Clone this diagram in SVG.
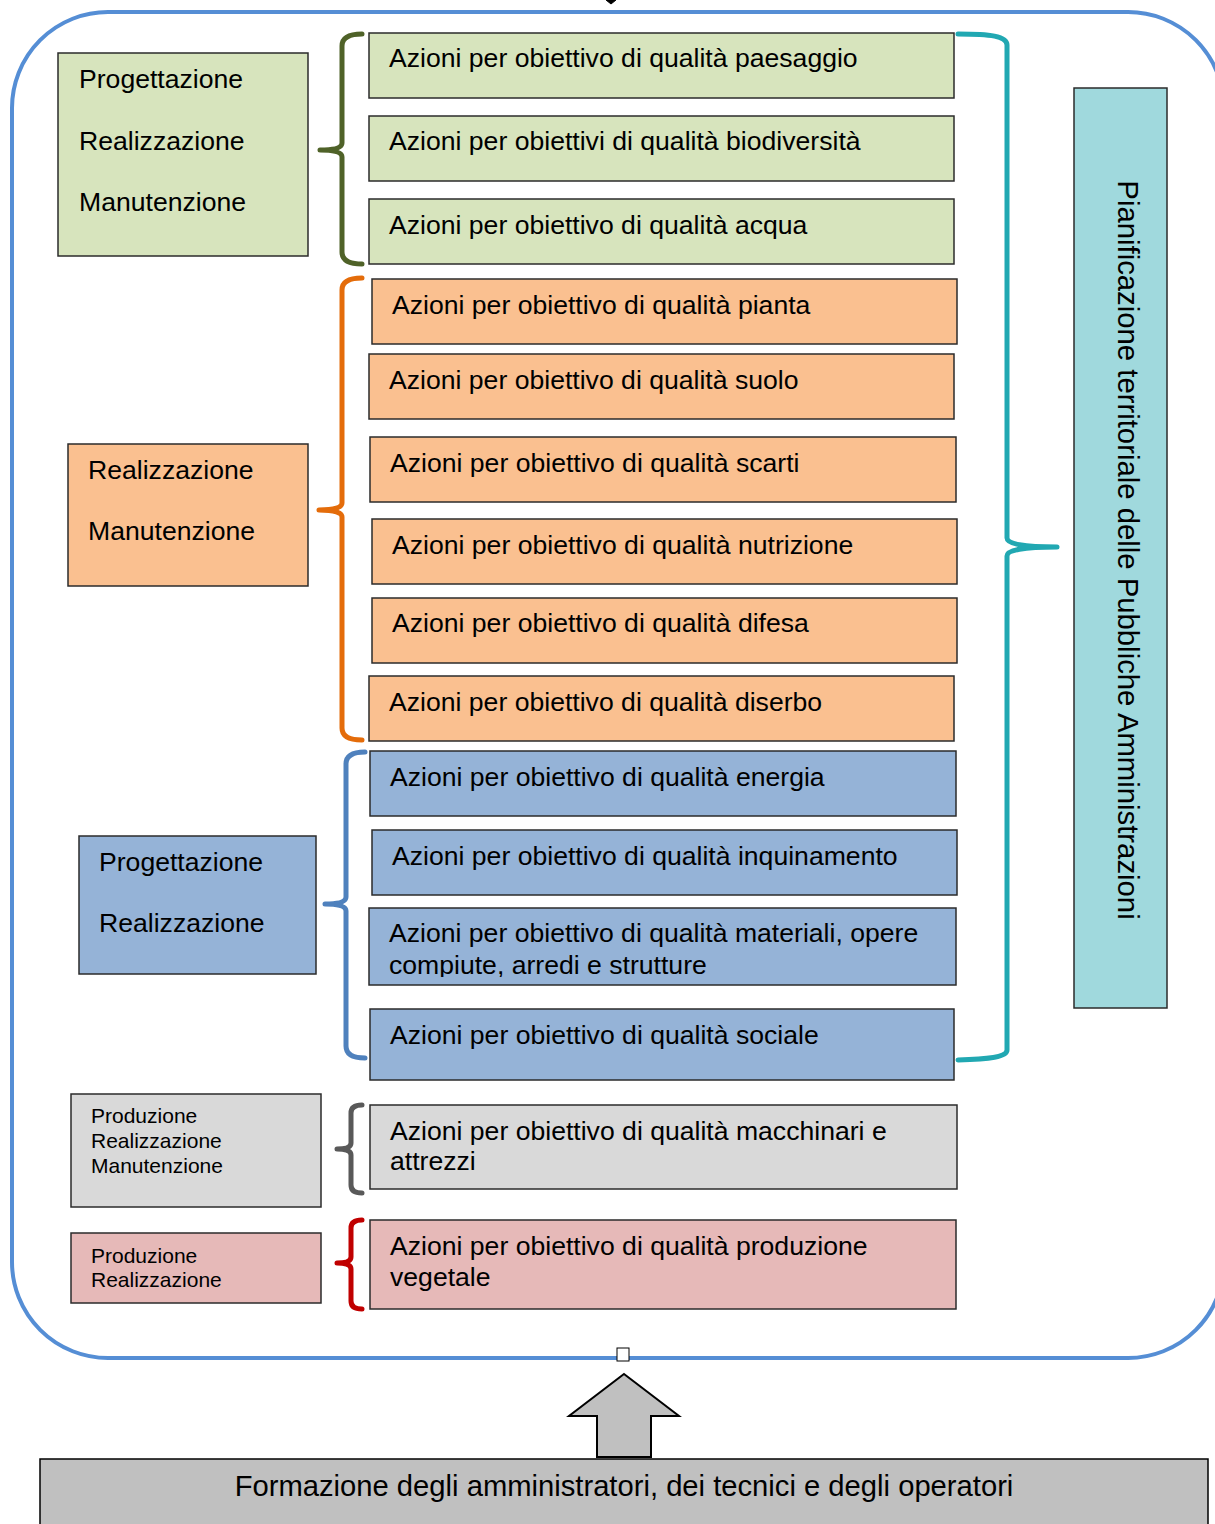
<svg xmlns="http://www.w3.org/2000/svg" width="1215" height="1524" viewBox="0 0 1215 1524">
<style>
text{font-family:"Liberation Sans",Arial,sans-serif;fill:#000}
.t{font-size:26.6px}
.s{font-size:21px}
.box{stroke:#2b2b2b;stroke-width:1.5}
.g{fill:#D7E4BD}.o{fill:#FAC090}.b{fill:#95B3D7}.gr{fill:#D9D9D9}.p{fill:#E6B9B8}.tl{fill:#A0D9DD}.sv{fill:#C0C0C0}
.br{fill:none;stroke-width:5;stroke-linecap:round;stroke-linejoin:round}
</style>
<defs>
<clipPath id="clipMat"><rect x="369" y="908" width="587" height="69"/></clipPath>
</defs>
<rect width="1215" height="1524" fill="#fff"/>
<g id="frame">
<rect x="12" y="12" width="1212" height="1346" rx="96" ry="96" fill="none" stroke="#558ED5" stroke-width="4"/>
<path d="M606,0 L611,4 L616,0" fill="#000" stroke="#000" stroke-width="1"/>
</g>
<g id="connectors">
<path class="br" stroke="#4F6228" d="M362,34 Q342,34 342,46 L342,143 Q342,150 320,150 Q342,150 342,157 L342,252 Q342,264 362,264"/>
<path class="br" stroke="#E46C0A" d="M362,278 Q342,278 342,290 L342,503 Q342,510 319,510 Q342,510 342,517 L342,728 Q342,740 362,740"/>
<path class="br" stroke="#4F81BD" d="M365,752 Q346,752 346,764 L346,897 Q346,904 325,904 Q346,904 346,911 L346,1046 Q346,1058 365,1058"/>
<path class="br" stroke="#595959" d="M362,1105 Q351,1105 351,1113 L351,1143 Q351,1149 337,1149 Q351,1149 351,1155 L351,1185 Q351,1193 362,1193"/>
<path class="br" stroke="#C00000" d="M362,1220 Q351,1220 351,1228 L351,1257 Q351,1263 337,1263 Q351,1263 351,1269 L351,1301 Q351,1309 362,1309"/>
<path class="br" stroke="#21A8B2" d="M958,34 C990,34 1007,36 1007,45 L1007,538 Q1007,547 1057,547 Q1007,547 1007,556 L1007,1050 C1007,1057 990,1059 958,1060"/>
</g>
<g id="left-green"><rect class="box g" x="58" y="53" width="250" height="203"/>
<text class="t" x="79" y="88">Progettazione</text><text class="t" x="79" y="150">Realizzazione</text><text class="t" x="79" y="211">Manutenzione</text></g>
<g id="a-paesaggio"><rect class="box g" x="369" y="33" width="585" height="65"/><text class="t" x="389" y="67">Azioni per obiettivo di qualità paesaggio</text></g>
<g id="a-biodiversita"><rect class="box g" x="369" y="116" width="585" height="65"/><text class="t" x="389" y="150">Azioni per obiettivi di qualità biodiversità</text></g>
<g id="a-acqua"><rect class="box g" x="369" y="199" width="585" height="65"/><text class="t" x="389" y="234">Azioni per obiettivo di qualità acqua</text></g>
<g id="left-orange"><rect class="box o" x="68" y="444" width="240" height="142"/>
<text class="t" x="88" y="479">Realizzazione</text><text class="t" x="88" y="540">Manutenzione</text></g>
<g id="a-pianta"><rect class="box o" x="372" y="279" width="585" height="65"/><text class="t" x="392" y="314">Azioni per obiettivo di qualità pianta</text></g>
<g id="a-suolo"><rect class="box o" x="369" y="354" width="585" height="65"/><text class="t" x="389" y="389">Azioni per obiettivo di qualità suolo</text></g>
<g id="a-scarti"><rect class="box o" x="370" y="437" width="586" height="65"/><text class="t" x="390" y="472">Azioni per obiettivo di qualità scarti</text></g>
<g id="a-nutrizione"><rect class="box o" x="372" y="519" width="585" height="65"/><text class="t" x="392" y="554">Azioni per obiettivo di qualità nutrizione</text></g>
<g id="a-difesa"><rect class="box o" x="372" y="598" width="585" height="65"/><text class="t" x="392" y="632">Azioni per obiettivo di qualità difesa</text></g>
<g id="a-diserbo"><rect class="box o" x="369" y="676" width="585" height="65"/><text class="t" x="389" y="711">Azioni per obiettivo di qualità diserbo</text></g>
<g id="left-blue"><rect class="box b" x="79" y="836" width="237" height="138"/>
<text class="t" x="99" y="871">Progettazione</text><text class="t" x="99" y="932">Realizzazione</text></g>
<g id="a-energia"><rect class="box b" x="370" y="751" width="586" height="65"/><text class="t" x="390" y="786">Azioni per obiettivo di qualità energia</text></g>
<g id="a-inquinamento"><rect class="box b" x="372" y="830" width="585" height="65"/><text class="t" x="392" y="865">Azioni per obiettivo di qualità inquinamento</text></g>
<g id="a-materiali"><rect class="box b" x="369" y="908" width="587" height="77"/>
<g clip-path="url(#clipMat)"><text class="t" x="389" y="942">Azioni per obiettivo di qualità materiali, opere</text><text class="t" x="389" y="974">compiute, arredi e strutture</text></g></g>
<g id="a-sociale"><rect class="box b" x="370" y="1009" width="584" height="71"/><text class="t" x="390" y="1044">Azioni per obiettivo di qualità sociale</text></g>
<g id="left-grey"><rect class="box gr" x="71" y="1094" width="250" height="113"/>
<text class="s" x="91" y="1123">Produzione</text><text class="s" x="91" y="1148">Realizzazione</text><text class="s" x="91" y="1173">Manutenzione</text></g>
<g id="a-macchinari"><rect class="box gr" x="370" y="1105" width="587" height="84"/>
<text class="t" x="390" y="1140">Azioni per obiettivo di qualità macchinari e</text><text class="t" x="390" y="1170">attrezzi</text></g>
<g id="left-pink"><rect class="box p" x="71" y="1233" width="250" height="70"/>
<text class="s" x="91" y="1263">Produzione</text><text class="s" x="91" y="1287">Realizzazione</text></g>
<g id="a-produzione"><rect class="box p" x="370" y="1220" width="586" height="89"/>
<text class="t" x="390" y="1255">Azioni per obiettivo di qualità produzione</text><text class="t" x="390" y="1286">vegetale</text></g>
<g id="pianificazione"><rect class="box tl" x="1074" y="88" width="93" height="920"/>
<text transform="translate(1118,550) rotate(90)" text-anchor="middle" style="font-size:29.3px">Pianificazione territoriale delle Pubbliche Amministrazioni</text></g>
<g id="handle"><rect x="617" y="1348" width="12" height="13" fill="#fff" stroke="#000" stroke-width="1"/></g>
<g id="arrow"><polygon points="624,1374 679,1416 651,1416 651,1457 597,1457 597,1416 569,1416" fill="#C0C0C0" stroke="#000" stroke-width="2"/></g>
<g id="formazione"><rect class="sv" x="40" y="1459" width="1168" height="80" stroke="#000" stroke-width="1.5"/>
<text x="624" y="1496" text-anchor="middle" style="font-size:29.2px">Formazione degli amministratori, dei tecnici e degli operatori</text></g>
</svg>
